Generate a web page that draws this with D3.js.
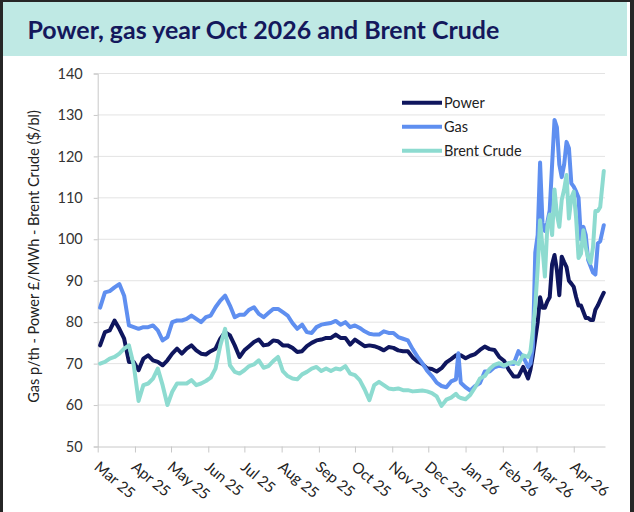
<!DOCTYPE html>
<html>
<head>
<meta charset="utf-8">
<script src="https://cdn.jsdelivr.net/npm/d3@7"></script>
<style>
  html, body { margin: 0; padding: 0; background: #262626; }
  svg { display: block; }
  text { font-family: Lato, "Noto Sans", sans-serif; }
</style>
</head>
<body>
<div id="chart"></div>
<script>
// sample dates (every 4 days, every 2 days from late Feb 2026)
var dates = [
  "2025-03-03","2025-03-07","2025-03-11","2025-03-15","2025-03-19","2025-03-23","2025-03-27","2025-03-31",
  "2025-04-04","2025-04-08","2025-04-12","2025-04-16","2025-04-20","2025-04-24","2025-04-28",
  "2025-05-02","2025-05-06","2025-05-10","2025-05-14","2025-05-18","2025-05-22","2025-05-26","2025-05-30",
  "2025-06-03","2025-06-07","2025-06-11","2025-06-15","2025-06-19","2025-06-23","2025-06-27",
  "2025-07-01","2025-07-05","2025-07-09","2025-07-13","2025-07-17","2025-07-21","2025-07-25","2025-07-29",
  "2025-08-02","2025-08-06","2025-08-10","2025-08-14","2025-08-18","2025-08-22","2025-08-26","2025-08-30",
  "2025-09-03","2025-09-07","2025-09-11","2025-09-15","2025-09-19","2025-09-23","2025-09-27",
  "2025-10-01","2025-10-05","2025-10-09","2025-10-13","2025-10-17","2025-10-21","2025-10-25","2025-10-29",
  "2025-11-02","2025-11-06","2025-11-10","2025-11-14","2025-11-18","2025-11-22","2025-11-26","2025-11-30",
  "2025-12-04","2025-12-08","2025-12-12","2025-12-16","2025-12-20","2025-12-24","2025-12-26","2025-12-28",
  "2026-01-01","2026-01-05","2026-01-09","2026-01-13","2026-01-17","2026-01-21","2026-01-25","2026-01-29",
  "2026-02-02","2026-02-06","2026-02-10","2026-02-14","2026-02-18","2026-02-22","2026-02-24","2026-02-26","2026-02-28",
  "2026-03-02","2026-03-04","2026-03-06","2026-03-08","2026-03-10","2026-03-12","2026-03-14","2026-03-16",
  "2026-03-18","2026-03-20","2026-03-22","2026-03-24","2026-03-26","2026-03-28","2026-03-30",
  "2026-04-01","2026-04-03","2026-04-05","2026-04-07","2026-04-09","2026-04-11","2026-04-13","2026-04-15",
  "2026-04-17","2026-04-19","2026-04-21","2026-04-23","2026-04-26"
];

var power = [
  74.4, 77.6, 78, 80.4, 78.4, 76, 70.4, 70.4,
  68.4, 71.2, 72, 70.8, 70.4, 69.6, 70.8,
  72.4, 73.6, 72.4, 73.6, 74.4, 73.2, 72.4, 72.2,
  73, 73.6, 76, 77.6, 76.8, 74.4, 71.6,
  73.2, 74.2, 75.2, 75.8, 74.4, 74.6, 75.6, 75.4,
  74.4, 74.4, 73.8, 72.8, 73, 74.2, 75, 75.6,
  75.8, 76.2, 76.2, 77, 76.2, 76.2, 74.6,
  75.8, 75, 74.2, 74.4, 74.2, 73.8, 73.2, 74,
  73.8, 73.2, 73, 73, 71.5, 70.5, 69.9, 68.9,
  68.7, 68.1, 68.9, 70.3, 71.1, 72, 72, 72,
  71.3, 71.9, 72.3, 73.3, 74.1, 73.5, 73.3, 71.6,
  70.7, 68.5, 66.9, 66.9, 69.2, 66.4, 68.6, 72, 76,
  80, 86, 83.5, 83.5, 85, 86, 94, 96.2,
  92.5, 86.5, 95.8, 94.5, 93.3, 90, 89.3,
  88.5, 86, 84, 84, 82.5, 81, 81, 80.5,
  80.5, 83, 84, 85.3, 87.1
];

var gas = [
  83.5, 87.2, 87.5, 88.4, 89.2, 86.4, 79.2, 78.8,
  78.4, 78.8, 78.8, 79.2, 78, 75.6, 76.4,
  80, 80.4, 80.4, 80.8, 81.6, 80.8, 80, 81.2,
  81.6, 83.6, 85.2, 86.4, 84, 81.2, 81.8,
  81.8, 83, 83.6, 82, 81.2, 82.2, 83.2, 83.2,
  82.4, 81.6, 79.8, 78.4, 79.4, 77.6, 77.4, 78.8,
  79.4, 79.6, 79.8, 80.3, 79.4, 80, 78.8,
  79.2, 78.6, 77.8, 77.2, 77, 77, 77.8, 77.4,
  77.4, 76.4, 76, 75.6, 73.5, 71.7, 70.1, 68.3,
  67, 65.4, 64.6, 64.3, 65.7, 66.2, 72.5, 65.4,
  64.3, 63.5, 64.6, 65.3, 68.1, 68.1, 69.1, 69.5,
  69.3, 70.1, 69.9, 73, 71.6, 69.2, 70, 74, 96.8,
  101, 118.5, 104, 102, 104, 107, 118, 128.8,
  127, 118, 115, 118, 123.5, 122, 113.5,
  112.7, 111.5, 110, 100, 103, 101, 95, 93.5,
  92, 91.5, 99, 99.5, 103.4
];

var brent = [
  70, 70.4, 71.2, 71.6, 72.4, 73.6, 74.4, 69.6,
  61, 64.8, 65.2, 66.4, 68.8, 64.8, 60,
  63.2, 65.2, 65.2, 65.2, 66, 64.8, 65.2, 65.8,
  66.6, 68.8, 74.4, 78.4, 69.6, 68, 67.6,
  68.4, 69.4, 69.8, 70.8, 69, 69.4, 70.6, 71.6,
  68.2, 67, 66.4, 66.2, 67.4, 68, 68.8, 69.2,
  68.2, 68.8, 68.2, 68.8, 68.6, 69.4, 67.6,
  67.2, 66, 63.8, 61.2, 64.8, 65.6, 64.8, 64,
  63.8, 64, 63.6, 63.6, 63.3, 63.4, 63.5, 63.3,
  62.9, 62.1, 59.8, 61.3, 61.8, 62.7, 62, 61.7,
  61.4, 62.5, 64.3, 66.4, 67, 68.7, 69.7, 70.1,
  69.5, 70.1, 70.4, 69.9, 72, 71.6, 73, 78, 84,
  93, 104.6, 98, 91, 103, 106, 101, 112,
  106, 103, 109.5, 112, 115.5, 105, 110,
  111.5, 105, 95.5, 96.5, 102.2, 98, 95.5, 94.3,
  98, 106.8, 106.8, 107.8, 116.5
];

var seriesNames = ["Power", "Gas", "Brent Crude"];
var seriesColors = ["#0f165e", "#5f8ff0", "#8ddbd0"];

var yTicks = [50, 60, 70, 80, 90, 100, 110, 120, 130, 140];
var monthTicks = ["2025-03-01","2025-04-01","2025-05-01","2025-06-01","2025-07-01","2025-08-01","2025-09-01",
  "2025-10-01","2025-11-01","2025-12-01","2026-01-01","2026-02-01","2026-03-01","2026-04-01"];
var monthLabels = ["Mar 25","Apr 25","May 25","Jun 25","Jul 25","Aug 25","Sep 25",
  "Oct 25","Nov 25","Dec 25","Jan 26","Feb 26","Mar 26","Apr 26"];

var titleText = "Power, gas year Oct 2026 and Brent Crude";
var yLabelText = "Gas p/th - Power \u00a3/MWh - Brent Crude ($/bl)";

function init() {
    var w = 634, h = 512;
    var left = 97.7, right = 605, top = 73.5, bottom = 446.5;
    var parse = d3.timeParse("%Y-%m-%d");

    var svg = d3.select("#chart").append("svg")
        .attr("width", w)
        .attr("height", h);

    // white page and title band
    svg.append("rect").attr("x", 3).attr("y", 2).attr("width", 627).attr("height", h - 2).attr("fill", "#ffffff");
    svg.append("rect").attr("x", 3).attr("y", 2).attr("width", 624).attr("height", 54).attr("fill", "#bfe9e4");

    var title = svg.append("text")
        .attr("x", 27.5)
        .attr("y", 39)
        .attr("fill", "#14185c")
        .attr("font-weight", "bold")
        .attr("font-size", 23)
        .text(titleText);
    var tl = title.node().getComputedTextLength();
    title.attr("font-size", 23 * 472 / tl);

    var xScale = d3.scaleTime()
        .domain([parse("2025-03-01"), parse("2026-04-27")])
        .range([left, right]);

    var yScale = d3.scaleLinear()
        .domain([50, 140])
        .range([bottom, top]);

    // gridlines
    svg.append("g")
        .selectAll("line")
        .data(yTicks.filter(function (d) { return d > 50; }))
        .enter().append("line")
        .attr("x1", left)
        .attr("x2", right)
        .attr("y1", function (d) { return yScale(d); })
        .attr("y2", function (d) { return yScale(d); })
        .attr("stroke", "#e3e3e3")
        .attr("stroke-width", 1);

    // y axis
    var yAxis = d3.axisLeft(yScale).tickValues(yTicks).tickSize(4).tickPadding(11);
    var gy = svg.append("g")
        .attr("transform", "translate(" + left + ",0)")
        .call(yAxis);
    gy.select(".domain").attr("stroke", "#c8c8c8");
    gy.selectAll(".tick line").attr("stroke", "#c8c8c8");
    gy.selectAll("text")
        .attr("font-family", "Lato, sans-serif")
        .attr("font-size", 14.5)
        .attr("fill", "#333333");

    // x axis
    var tickDates = monthTicks.map(parse);
    var xAxis = d3.axisBottom(xScale)
        .tickValues(tickDates)
        .tickFormat(function (d, i) { return monthLabels[i]; })
        .tickSize(6)
        .tickSizeOuter(0);
    var gx = svg.append("g")
        .attr("transform", "translate(0," + bottom + ")")
        .call(xAxis);
    gx.select(".domain").attr("stroke", "#c8c8c8");
    gx.selectAll(".tick line").attr("stroke", "#c8c8c8");
    gx.selectAll("text")
        .attr("font-family", "Lato, sans-serif")
        .attr("font-size", 15)
        .attr("fill", "#222222")
        .attr("text-anchor", "start")
        .attr("x", 0)
        .attr("y", 0)
        .attr("dy", 0)
        .attr("transform", "translate(-5,22) rotate(40)");

    // y axis title
    var yl = svg.append("text")
        .attr("transform", "translate(39," + 256.5 + ") rotate(-90)")
        .attr("text-anchor", "middle")
        .attr("font-size", 14)
        .attr("fill", "#222222")
        .text(yLabelText);
    var yll = yl.node().getComputedTextLength();
    yl.attr("font-size", 14 * 293 / yll);

    // series
    var series = [power, gas, brent];
    var line = d3.line()
        .x(function (d, i) { return xScale(parse(dates[i])); })
        .y(function (d) { return yScale(d); });

    series.forEach(function (values, k) {
        svg.append("path")
            .datum(values)
            .attr("fill", "none")
            .attr("stroke", seriesColors[k])
            .attr("stroke-width", 4)
            .attr("stroke-linejoin", "round")
            .attr("stroke-linecap", "round")
            .attr("d", line);
    });

    // legend
    var legend = svg.append("g");
    seriesNames.forEach(function (name, k) {
        var ly = 102.7 + k * 24;
        legend.append("line")
            .attr("x1", 402)
            .attr("x2", 442)
            .attr("y1", ly)
            .attr("y2", ly)
            .attr("stroke", seriesColors[k])
            .attr("stroke-width", 4);
        legend.append("text")
            .attr("x", 444)
            .attr("y", ly)
            .attr("dy", "0.35em")
            .attr("font-size", 14.5)
            .attr("fill", "#222222")
            .text(name);
    });
}

window.onload = init;
</script>
</body>
</html>
